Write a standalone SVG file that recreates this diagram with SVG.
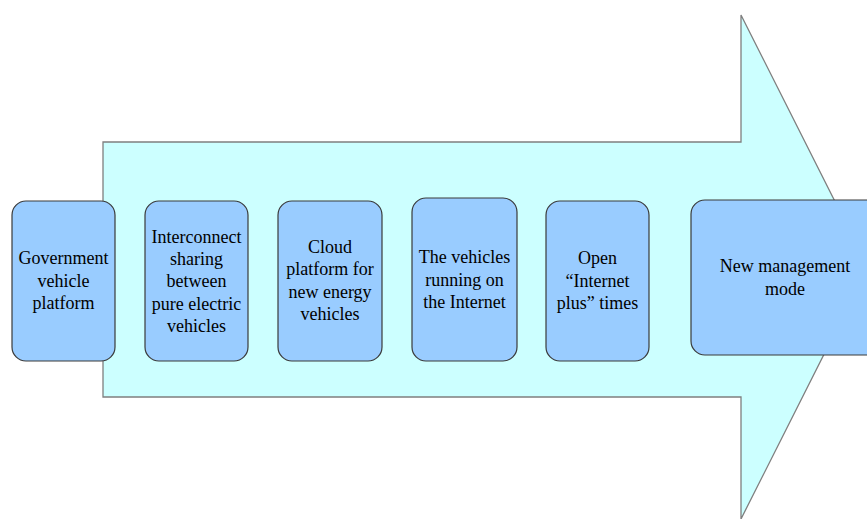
<svg xmlns="http://www.w3.org/2000/svg" width="867" height="519" viewBox="0 0 867 519">
<style>
.arrow{fill:#CCFFFF;stroke:#7f7f7f;stroke-width:1.3}
.box{fill:#99CCFF;stroke:#3a3a3a;stroke-width:1.2}
.t{font-family:'Liberation Serif','Times New Roman',Times,serif;font-size:18px;fill:#000;text-anchor:middle}
</style>
<rect width="867" height="519" fill="#fff"/>
<g id="arrow">
<path class="arrow" d="M103,142 H741 V15 L868,267 L741,519 V397 H103 Z"/>
</g>
<g id="connectors"></g>
<g id="n1" class="t" font-family="Liberation Serif, serif">
<rect class="box" x="12" y="201" width="103" height="160" rx="14"/>
<text x="63.5" y="264">Government</text>
<text x="63.5" y="287">vehicle</text>
<text x="63.5" y="309">platform</text>
</g>
<g id="n2" class="t" font-family="Liberation Serif, serif">
<rect class="box" x="145" y="201" width="103" height="160" rx="14"/>
<text x="196.5" y="243">Interconnect</text>
<text x="196.5" y="265">sharing</text>
<text x="196.5" y="287">between</text>
<text x="196.5" y="310">pure electric</text>
<text x="196.5" y="332">vehicles</text>
</g>
<g id="n3" class="t" font-family="Liberation Serif, serif">
<rect class="box" x="278" y="201" width="104" height="160" rx="14"/>
<text x="330" y="253">Cloud</text>
<text x="330" y="275">platform for</text>
<text x="330" y="298">new energy</text>
<text x="330" y="320">vehicles</text>
</g>
<g id="n4" class="t" font-family="Liberation Serif, serif">
<rect class="box" x="412" y="198" width="105" height="163" rx="14"/>
<text x="464.5" y="263">The vehicles</text>
<text x="464.5" y="286">running on</text>
<text x="464.5" y="308">the Internet</text>
</g>
<g id="n5" class="t" font-family="Liberation Serif, serif">
<rect class="box" x="546" y="201" width="103" height="160" rx="14"/>
<text x="597.5" y="264">Open</text>
<text x="597.5" y="287">“Internet</text>
<text x="597.5" y="309">plus” times</text>
</g>
<g id="n6" class="t" font-family="Liberation Serif, serif">
<rect class="box" x="691" y="200" width="190" height="155" rx="14"/>
<text x="785" y="272">New management</text>
<text x="785" y="295">mode</text>
</g>
</svg>
